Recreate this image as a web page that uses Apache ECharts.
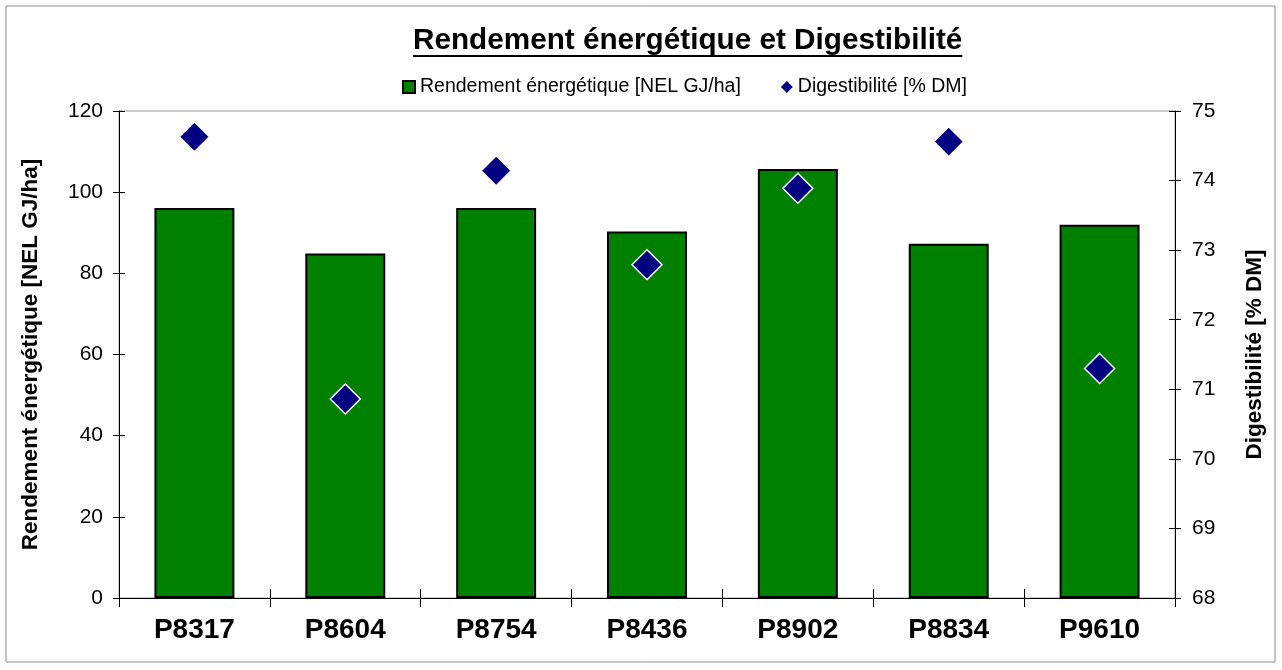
<!DOCTYPE html>
<html>
<head>
<meta charset="utf-8">
<title>Rendement énergétique et Digestibilité</title>
<script src="https://cdn.jsdelivr.net/npm/echarts@6/dist/echarts.min.js"></script>
<style>
  html, body { margin: 0; padding: 0; background: #fff; }
  #chart { width: 1282px; height: 670px; }
</style>
</head>
<body>
<div id="chart"></div>
<script>
// values
const categories = ['P8317', 'P8604', 'P8754', 'P8436', 'P8902', 'P8834', 'P9610'];
const rendement = [96.1, 84.9, 96.1, 90.3, 105.7, 87.3, 92.0];
const digestibilite = [74.63, 70.86, 74.14, 72.79, 73.89, 74.56, 71.30];

const leftTicks = { min: 0, max: 120, interval: 20 };
const rightTicks = { min: 68, max: 75, interval: 1 };

const titleText = 'Rendement énergétique et Digestibilité';
const font = 'Arial, "Liberation Sans", sans-serif';
const titleFont = 'bold 29.7px ' + font;

// width of the title, for the underline
const ctx = document.createElement('canvas').getContext('2d');
ctx.font = titleFont;
const titleWidth = ctx.measureText(titleText).width;
const titleLeft = 413;

const chart = echarts.init(document.getElementById('chart'));

// extra axes without line/labels, only inward ticks -> Excel-like "cross" ticks
function innerTickAxis(type, position, range) {
  const ax = {
    type: type,
    position: position,
    axisLine: { show: false },
    axisTick: { show: true, inside: true, length: type === 'category' ? 9 : 6, lineStyle: { color: '#000' } },
    axisLabel: { show: false },
    splitLine: { show: false }
  };
  if (type === 'category') {
    ax.data = categories;
  } else {
    Object.assign(ax, range);
  }
  return ax;
}

const option = {
  backgroundColor: '#fff',
  animation: false,
  legend: {
    left: 397,
    top: 72,
    itemGap: 40,
    itemWidth: 12,
    itemHeight: 12,
    textStyle: { fontFamily: font, fontSize: 19.5, color: '#000' },
    data: [
      { name: 'Rendement énergétique [NEL GJ/ha]', icon: 'rect' },
      { name: 'Digestibilité [% DM]', icon: 'diamond', itemStyle: { borderWidth: 0 } }
    ]
  },
  graphic: [
    {
      type: 'rect',
      shape: { x: 6, y: 6, width: 1269, height: 656 },
      style: { fill: 'none', stroke: '#8c8c8c', lineWidth: 1 },
      silent: true
    },
    {
      type: 'text',
      left: titleLeft,
      top: 26,
      style: { text: titleText, font: titleFont, fill: '#000' },
      silent: true
    },
    {
      // title underline
      type: 'rect',
      shape: { x: titleLeft, y: 55, width: titleWidth, height: 2 },
      style: { fill: '#000' },
      silent: true
    }
  ],
  grid: {
    left: 119,
    right: 107,
    top: 111,
    bottom: 72,
    show: true,
    borderColor: '#999',
    borderWidth: 1,
    backgroundColor: '#fff'
  },
  xAxis: [
    {
      type: 'category',
      data: categories,
      position: 'bottom',
      axisLine: { lineStyle: { color: '#000', width: 1 } },
      axisTick: { show: true, length: 9, lineStyle: { color: '#000' } },
      axisLabel: { fontFamily: font, fontSize: 28, fontWeight: 'bold', color: '#000', margin: 18 }
    },
    innerTickAxis('category', 'bottom')
  ],
  yAxis: [
    {
      type: 'value',
      position: 'left',
      min: leftTicks.min,
      max: leftTicks.max,
      interval: leftTicks.interval,
      name: 'Rendement énergétique [NEL GJ/ha]',
      nameLocation: 'middle',
      nameRotate: 90,
      nameGap: 77,
      nameTextStyle: { fontFamily: font, fontSize: 22.5, fontWeight: 'bold', color: '#000' },
      axisLine: { show: true, lineStyle: { color: '#000', width: 1 } },
      axisTick: { show: true, length: 6, lineStyle: { color: '#000' } },
      axisLabel: { fontFamily: font, fontSize: 21, color: '#000', margin: 16 },
      splitLine: { show: false }
    },
    {
      type: 'value',
      position: 'right',
      min: rightTicks.min,
      max: rightTicks.max,
      interval: rightTicks.interval,
      name: 'Digestibilité [% DM]',
      nameLocation: 'middle',
      nameRotate: 90,
      nameGap: 68,
      nameTextStyle: { fontFamily: font, fontSize: 22.5, fontWeight: 'bold', color: '#000' },
      axisLine: { show: true, lineStyle: { color: '#000', width: 1 } },
      axisTick: { show: true, length: 6, lineStyle: { color: '#000' } },
      axisLabel: { fontFamily: font, fontSize: 21, color: '#000', margin: 17 },
      splitLine: { show: false }
    },
    innerTickAxis('value', 'left', leftTicks),
    innerTickAxis('value', 'right', rightTicks)
  ],
  series: [
    {
      name: 'Rendement énergétique [NEL GJ/ha]',
      type: 'bar',
      xAxisIndex: 0,
      yAxisIndex: 0,
      barWidth: '53%',
      itemStyle: { color: '#008000', borderColor: '#000', borderWidth: 2 },
      data: rendement
    },
    {
      name: 'Digestibilité [% DM]',
      type: 'scatter',
      xAxisIndex: 0,
      yAxisIndex: 1,
      symbol: 'diamond',
      symbolSize: 30,
      itemStyle: { color: '#000080', borderColor: '#fff', borderWidth: 1.5, opacity: 1 },
      data: digestibilite
    }
  ]
};

chart.setOption(option);
</script>
</body>
</html>
